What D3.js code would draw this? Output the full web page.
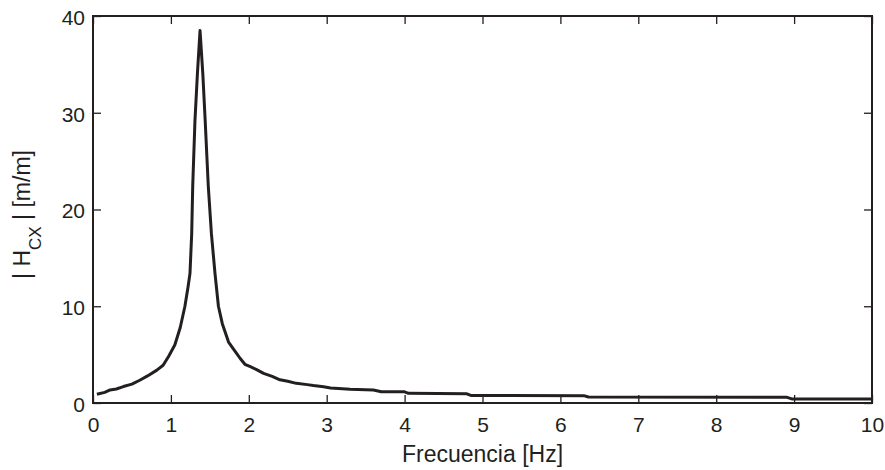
<!DOCTYPE html>
<html>
<head>
<meta charset="utf-8">
<script src="https://cdn.jsdelivr.net/npm/d3@7"></script>
<style>
  html, body { margin: 0; padding: 0; background: #fff; }
  svg { display: block; font-family: "Liberation Sans", Arial, sans-serif; }
</style>
</head>
<body>
<svg id="chart" width="885" height="470"></svg>
<script>
// Data
const freq = [0.05,0.15,0.22,0.3,0.39,0.5,0.6,0.7,0.82,0.9,0.97,1.05,1.12,1.18,1.22,1.245,1.267,1.28,1.309,1.34,1.374,1.41,1.44,1.48,1.52,1.566,1.61,1.66,1.74,1.82,1.89,1.95,2.02,2.1,2.19,2.3,2.4,2.5,2.61,2.75,2.83,2.96,3.05,3.3,3.6,3.7,4.0,4.05,4.8,4.85,6.3,6.36,8.9,8.97,10];
const amp  = [0.9,1.1,1.35,1.45,1.7,1.95,2.35,2.8,3.4,3.9,4.8,6.0,7.8,10.0,12.0,13.4,17.5,22.4,29.2,34,38.5,34,29.2,22.4,17.5,13.4,10,8.2,6.3,5.4,4.6,4.0,3.75,3.45,3.06,2.75,2.4,2.25,2.03,1.9,1.8,1.68,1.55,1.42,1.34,1.17,1.15,1.0,0.95,0.78,0.76,0.62,0.6,0.42,0.42];
const xTicks = [0,1,2,3,4,5,6,7,8,9,10];
const yTicks = [0,10,20,30,40];
const xLabel = "Frecuencia [Hz]";
const yLabelMain = "| H";
const yLabelSub = "CX";
const yLabelEnd = " | [m/m]";

const ink = "#231f20";
const mLeft = 93, mRight = 872, mTop = 16, mBottom = 403;
const svg = d3.select("#chart");

const x = d3.scaleLinear().domain([0, 10]).range([mLeft, mRight]);
const y = d3.scaleLinear().domain([0, 40]).range([mBottom, mTop]);

function styleAxis(g) {
  g.select(".domain").remove();
  g.selectAll(".tick line").attr("stroke", ink).attr("stroke-width", 1.3);
  g.selectAll(".tick text").attr("fill", ink)
    .style("font-family", "'Liberation Sans', Arial, sans-serif")
    .style("font-size", "21px");
}

svg.append("g").attr("transform", `translate(0,${mBottom})`)
  .call(d3.axisBottom(x).tickValues(xTicks).tickFormat(d3.format("d")).tickSize(-8).tickPadding(14))
  .call(styleAxis);
svg.append("g").attr("transform", `translate(0,${mTop})`)
  .call(d3.axisTop(x).tickValues(xTicks).tickFormat("").tickSize(-8))
  .call(styleAxis);
svg.append("g").attr("transform", `translate(${mLeft},0)`)
  .call(d3.axisLeft(y).tickValues(yTicks).tickFormat(d3.format("d")).tickSize(-8).tickPadding(8))
  .call(styleAxis)
  .call(g => g.selectAll(".tick text").attr("dy", "0.4em"));
svg.append("g").attr("transform", `translate(${mRight},0)`)
  .call(d3.axisRight(y).tickValues(yTicks).tickFormat("").tickSize(-8))
  .call(styleAxis);

// curve
const pts = freq.map((f, i) => [f, amp[i]]);
svg.append("path")
  .datum(pts)
  .attr("fill", "none")
  .attr("stroke", ink)
  .attr("stroke-width", 3)
  .attr("stroke-linejoin", "round")
  .attr("d", d3.line().x(d => x(d[0])).y(d => y(d[1])));

// frame
svg.append("rect")
  .attr("x", mLeft).attr("y", mTop)
  .attr("width", mRight - mLeft).attr("height", mBottom - mTop)
  .attr("fill", "none").attr("stroke", ink).attr("stroke-width", 2);

// axis titles
svg.append("text")
  .attr("x", (mLeft + mRight) / 2).attr("y", 462)
  .attr("text-anchor", "middle")
  .attr("fill", ink)
  .style("font-size", "23px")
  .text(xLabel);

const yl = svg.append("text")
  .attr("transform", `translate(30,${(mTop + mBottom) / 2 + 5}) rotate(-90)`)
  .attr("text-anchor", "middle")
  .attr("fill", ink)
  .style("font-size", "23px");
yl.append("tspan").text(yLabelMain);
yl.append("tspan").attr("dy", 11).style("font-size", "17px").text(yLabelSub);
yl.append("tspan").attr("dy", -11).text(yLabelEnd);
</script>
</body>
</html>
